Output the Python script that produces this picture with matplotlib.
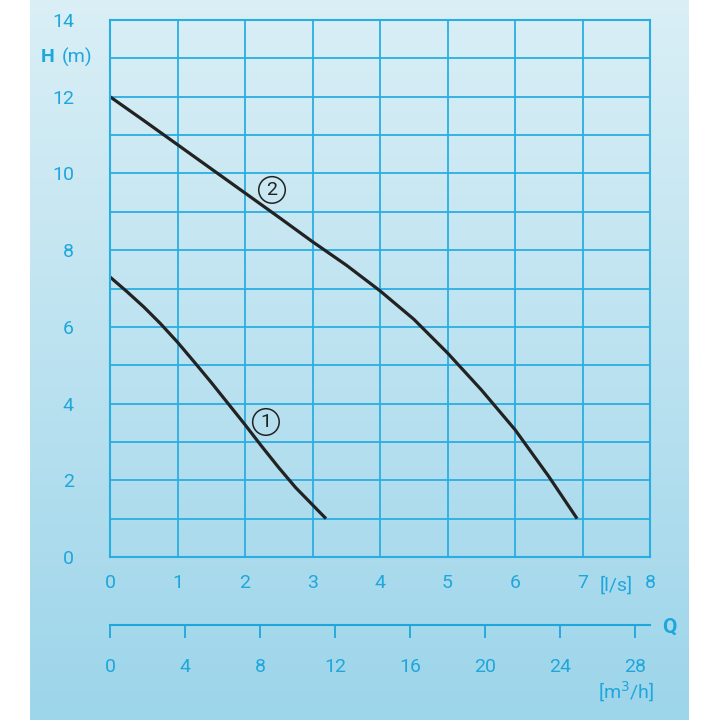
import numpy as np
import matplotlib
matplotlib.use("Agg")
import matplotlib.pyplot as plt
from matplotlib.colors import LinearSegmentedColormap

plt.rcParams['font.family'] = ['Roboto', 'DejaVu Sans']

# pump curves, Q in l/s, H in m
q1 = [0.0, 0.25, 0.5, 0.75, 1.0, 1.25, 1.5, 1.75, 2.0, 2.25, 2.5, 2.75, 3.0, 3.2]
h1 = [7.3, 6.92, 6.52, 6.08, 5.6, 5.08, 4.55, 4.0, 3.45, 2.88, 2.33, 1.81, 1.36, 1.0]
q2 = [0.0, 0.5, 1.0, 1.5, 2.0, 2.5, 3.0, 3.5, 4.0, 4.5, 5.0, 5.5, 6.0, 6.5, 6.92]
h2 = [12.0, 11.38, 10.75, 10.12, 9.49, 8.86, 8.22, 7.61, 6.94, 6.2, 5.32, 4.36, 3.32, 2.1, 1.0]
labels = ["1", "2"]
label_pos = [(2.31, 3.52), (2.40, 9.57)]

ls_ticks = [0, 1, 2, 3, 4, 5, 6, 7, 8]
m3h_ticks = [0, 4, 8, 12, 16, 20, 24, 28]
h_ticks = [0, 2, 4, 6, 8, 10, 12, 14]

blue = '#1ea7dc'
grid_blue = '#2aaee2'
ink = '#222222'

fig = plt.figure(figsize=(7.2, 7.2), dpi=100)

# gradient background
bg = fig.add_axes([30/720, 0, 659/720, 1])
cmap = LinearSegmentedColormap.from_list('bg', ['#daeff6', '#9dd5ea'])
bg.imshow(np.linspace(0, 1, 256).reshape(-1, 1), aspect='auto', cmap=cmap,
          extent=[0, 1, 0, 1])
bg.set_axis_off()
bg.set_zorder(-10)

ax = fig.add_axes([110/720, 1 - 557/720, 540/720, 537/720])
ax.patch.set_alpha(0)
ax.set_xlim(0, 8)
ax.set_ylim(0, 14)
ax.set_xticks(ls_ticks)
ax.set_yticks(h_ticks)
ax.set_yticks(range(15), minor=True)
ax.grid(True, which='both', color=grid_blue, lw=1.3)
for s in ax.spines.values():
    s.set_color(grid_blue)
    s.set_linewidth(1.5)
ax.tick_params(which='both', length=0, colors=blue, labelsize=14)
ax.tick_params(axis='y', pad=26)
ax.tick_params(axis='x', pad=12)
ax.text(7.25, -0.75, '[l/s]', color=blue, fontsize=14, ha='left', va='center')
fig.text(41/720, 1 - 57/720, 'H', color=blue, fontsize=14, fontweight='bold',
         ha='left', va='center')
fig.text(62/720, 1 - 57/720, '(m)', color=blue, fontsize=14,
         ha='left', va='center')

ax.plot(q1, h1, color=ink, lw=2.3, solid_capstyle='butt')
ax.plot(q2, h2, color=ink, lw=2.3, solid_capstyle='butt')
for lab, (x, y) in zip(labels, label_pos):
    ax.text(x, y, lab, color=ink, fontsize=14, ha='center', va='center',
            bbox=dict(boxstyle='circle,pad=0.22', fc='none', ec=ink, lw=1.1))

# second Q axis in m3/h
ax2 = fig.add_axes([110/720, 1 - 625/720, 540/720, 0.0001])
ax2.patch.set_alpha(0)
ax2.set_xlim(0, 8 * 3.6)
ax2.set_ylim(0, 1)
for k in ['top', 'left', 'right']:
    ax2.spines[k].set_visible(False)
ax2.spines['bottom'].set_color(blue)
ax2.spines['bottom'].set_linewidth(1.5)
ax2.set_yticks([])
ax2.set_xticks(m3h_ticks)
ax2.tick_params(axis='x', direction='out', length=9, width=1.3, color=blue,
                labelcolor=blue, labelsize=14, pad=15)
fig.text(662/720, 1 - 627/720, 'Q', color=blue, fontsize=15, fontweight='bold',
         ha='left', va='center')
fig.text(626/720, 1 - 692/720, r'[m$^3$/h]', color=blue, fontsize=14,
         ha='center', va='center')

fig.savefig('out.png', dpi=100)
